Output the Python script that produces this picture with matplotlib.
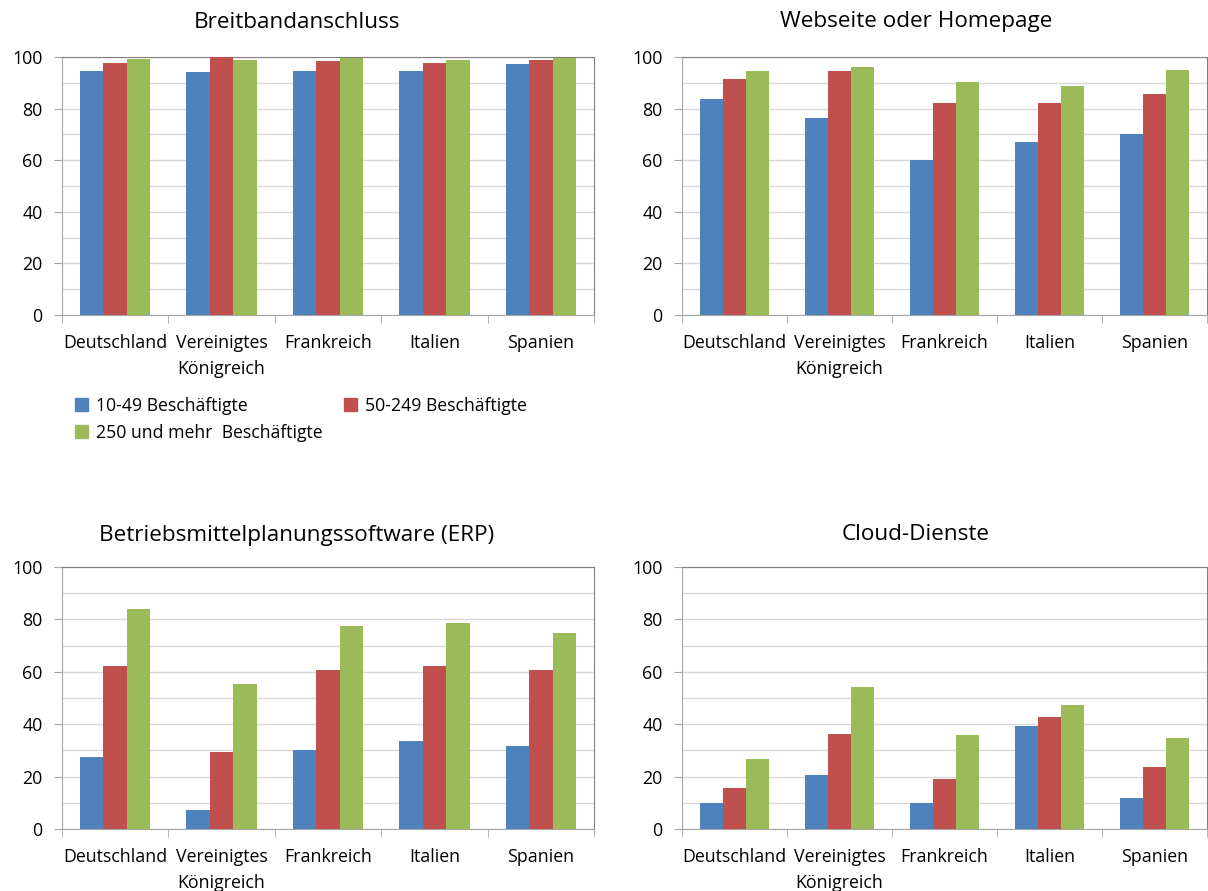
import numpy as np
import matplotlib
matplotlib.use("Agg")
import matplotlib.pyplot as plt
from matplotlib.patches import Patch

# === DATA ===
countries = ["Deutschland", "Vereinigtes\nKönigreich", "Frankreich", "Italien", "Spanien"]
groups = ["10-49 Beschäftigte", "50-249 Beschäftigte", "250 und mehr  Beschäftigte"]

breitband_small = [94.4, 94.1, 94.6, 94.4, 97.3]
breitband_mid = [97.6, 100.0, 98.3, 97.8, 99.0]
breitband_large = [99.2, 99.0, 99.5, 99.0, 99.5]

webseite_small = [83.9, 76.4, 60.0, 67.2, 70.0]
webseite_mid = [91.5, 94.6, 82.0, 82.2, 85.8]
webseite_large = [94.6, 96.0, 90.5, 88.8, 95.0]

erp_small = [27.5, 7.1, 30.3, 33.6, 31.7]
erp_mid = [62.2, 29.5, 60.7, 62.2, 60.7]
erp_large = [83.9, 55.5, 77.4, 78.8, 74.8]

cloud_small = [9.9, 20.8, 10.0, 39.5, 11.9]
cloud_mid = [15.5, 36.4, 18.9, 42.8, 23.6]
cloud_large = [26.6, 54.1, 35.7, 47.4, 34.9]

# === STYLE ===
plt.rcParams['font.family'] = ['Open Sans', 'DejaVu Sans']
COLORS = ['#4F81BD', '#C0504D', '#9BBB59']
W, H = 1208, 891

fig = plt.figure(figsize=(W / 100, H / 100), dpi=100)


def make_panel(rect, title, title_x, title_y, series):
    l, t, r, b = rect
    ax = fig.add_axes([l / W, 1 - b / H, (r - l) / W, (b - t) / H])
    x = np.arange(len(countries))
    bw = 0.22
    for i, vals in enumerate(series):
        ax.bar(x + (i - 1) * bw, vals, width=bw, color=COLORS[i], zorder=3)
    ax.set_xlim(-0.5, len(countries) - 0.5)
    ax.set_ylim(0, 100)
    ax.set_yticks(np.arange(0, 101, 20))
    ax.set_yticks(np.arange(0, 101, 10), minor=True)
    ax.grid(which='both', axis='y', color='#D9D9D9', lw=1.0, zorder=0)
    ax.set_xticks(x)
    ax.set_xticklabels(countries)
    for lab in ax.get_xticklabels():
        lab.set_linespacing(1.55)
    ax.set_xticks(np.arange(-0.5, len(countries)), minor=True)
    ax.tick_params(axis='x', which='major', length=0, pad=14, labelsize=12.8, colors='#000000')
    ax.tick_params(axis='x', which='minor', length=6, color='#A6A6A6', direction='out')
    ax.tick_params(axis='y', which='major', length=6, color='#A6A6A6', pad=8, labelsize=12.8)
    ax.tick_params(axis='y', which='minor', length=0)
    for s in ['left', 'bottom']:
        ax.spines[s].set_color('#A6A6A6')
    for s in ['top', 'right']:
        ax.spines[s].set_color('#808080')
    fig.text(title_x / W, 1 - title_y / H, title, ha='center', va='center', fontsize=16.2)
    return ax


make_panel((62, 57, 594, 315), "Breitbandanschluss", 297, 22,
           [breitband_small, breitband_mid, breitband_large])
make_panel((682, 57, 1207, 315), "Webseite oder Homepage", 916, 22,
           [webseite_small, webseite_mid, webseite_large])
make_panel((62, 567, 594, 829), "Betriebsmittelplanungssoftware (ERP)", 297, 535,
           [erp_small, erp_mid, erp_large])
make_panel((682, 567, 1207, 829), "Cloud-Dienste", 916, 535,
           [cloud_small, cloud_mid, cloud_large])

# legend: row-major order -> reorder for column fill
handles = [Patch(color=c) for c in COLORS]
order = [0, 2, 1]
fig.legend([handles[i] for i in order], [groups[i] for i in order],
           ncol=2, loc='upper left', bbox_to_anchor=(75 / W, 1 - 397 / H),
           frameon=False, fontsize=12.7, handlelength=0.75, handleheight=0.75,
           handletextpad=0.45, columnspacing=1.2, labelspacing=0.5,
           borderaxespad=0, borderpad=0)

fig.savefig("out.png", dpi=100)
